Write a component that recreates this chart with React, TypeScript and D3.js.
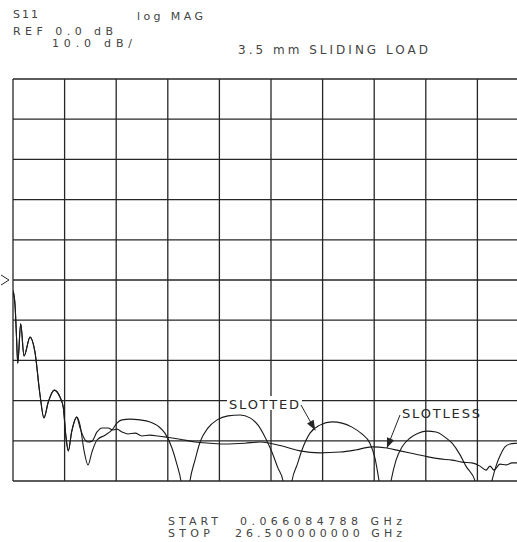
import React from 'react';
import * as d3 from 'd3';

// S11 log MAG trace, [GHz, dB]
// both loads trace the same path at low frequency
const sharedTrace: [number, number][] = [
  [0.07, -2.7], [0.17, -6.2], [0.24, -13.5], [0.31, -20.7], [0.46, -10.9],
  [0.63, -18.9], [0.94, -14.2], [1.19, -17.9], [1.45, -28.6], [1.65, -34.3],
  [1.87, -30.4], [2.18, -27.4], [2.47, -29.1], [2.64, -31.6], [2.77, -38.6],
  [2.9, -42.5], [3.07, -37.8], [3.33, -34.1],
];

const slottedTrace: [number, number][] = [
  [3.5, -36.1], [3.7, -42.3], [3.91, -46.0], [4.11, -42.8], [4.37, -39.8],
  [4.78, -38.6], [5.14, -37.3], [5.39, -35.6], [5.65, -34.8], [6.06, -34.6],
  [6.57, -34.8], [7.08, -35.3], [7.49, -36.3], [7.85, -38.1], [8.21, -41.8],
  [8.47, -46.0], [8.67, -50], [8.9, -60], [9.13, -50], [9.39, -44.8],
  [9.65, -40.3], [10.06, -36.8], [10.52, -34.8], [11.08, -33.8], [11.7, -33.6],
  [12.21, -34.3], [12.62, -36.1], [12.98, -39.1], [13.33, -42.8], [13.64, -46.8],
  [13.9, -50], [14.13, -60], [14.36, -50], [14.62, -46.0], [14.87, -42.3],
  [15.28, -38.1], [15.79, -36.1], [16.41, -35.3], [16.92, -35.6], [17.43, -36.6],
  [17.94, -38.3], [18.35, -40.6], [18.61, -44.3], [18.82, -50], [19.12, -60],
  [19.43, -50], [19.69, -44.8], [20.0, -41.5], [20.41, -39.3], [20.82, -38.1],
  [21.28, -37.6], [21.74, -37.8], [22.2, -39.1], [22.56, -40.6], [22.97, -43.5],
  [23.27, -46.3], [23.74, -50], [24.17, -60], [24.6, -50], [24.81, -46.3],
  [25.01, -43.8], [25.27, -41.5], [25.53, -40.8], [25.89, -40.6], [26.5, -40.3],
];

const slotlessTrace: [number, number][] = [
  [3.5, -36.8], [3.7, -39.3], [3.91, -40.3], [4.11, -40.1], [4.37, -37.8],
  [4.62, -36.8], [4.93, -36.8], [5.19, -37.3], [5.39, -37.1], [5.65, -37.8],
  [5.96, -38.3], [6.32, -38.1], [6.67, -38.8], [7.08, -38.6], [7.49, -38.8],
  [7.95, -39.1], [8.62, -39.6], [9.39, -40.3], [10.16, -40.6], [10.93, -40.8],
  [11.95, -40.6], [12.72, -40.3], [13.23, -40.6], [14.0, -41.5], [14.77, -42.5],
  [15.79, -43.0], [16.82, -42.8], [17.59, -42.3], [18.46, -41.5], [19.22, -41.8],
  [19.89, -42.5], [20.66, -43.3], [21.33, -44.0], [21.94, -44.5], [22.56, -44.8],
  [23.07, -45.3], [23.58, -45.5], [23.99, -46.3], [24.3, -47.3], [24.5, -46.3],
  [24.71, -47.3], [25.01, -45.8], [25.32, -46.0], [25.63, -45.5], [25.89, -45.5],
  [26.5, -45.3],
];

const startGHz = 0.066084788;
const stopGHz = 26.5;
const refDb = 0;
const dbPerDiv = 10;
const divisions = 10;

const headerLines = ['S11', 'log MAG', 'REF 0.0 dB', '10.0 dB/'];
const chartTitle = '3.5 mm SLIDING LOAD';
const footerLabels = ['START', 'STOP'];
const footerValues = ['0.066084788 GHz', '26.500000000 GHz'];
const seriesNames = ['SLOTTED', 'SLOTLESS'];

const W = 517;
const H = 542;
const plot = { left: 13, right: 529, top: 79, bottom: 481 };
const ink = '#262626';
const font = '"DejaVu Sans", Verdana, sans-serif';

const App = () => {
  const x = d3.scaleLinear().domain([startGHz, stopGHz]).range([plot.left, plot.right]);
  const y = d3
    .scaleLinear()
    .domain([refDb - (dbPerDiv * divisions) / 2, refDb + (dbPerDiv * divisions) / 2])
    .range([plot.bottom, plot.top]);

  const xDiv = (stopGHz - startGHz) / divisions;
  const xGrid = d3.range(divisions + 1).map(i => startGHz + i * xDiv);
  const yGrid = d3.range(divisions + 1).map(i => y.domain()[0] + i * dbPerDiv);

  const line = d3
    .line<[number, number]>()
    .x(d => x(d[0]))
    .y(d => y(d[1]))
    .curve(d3.curveMonotoneX);

  const slotted = line([...sharedTrace, ...slottedTrace]) || '';
  const slotless = line([...sharedTrace, ...slotlessTrace]) || '';

  // label leader lines point at a spot on each trace
  const slottedTip = [x(15.55), y(-37.4)];
  const slotlessTip = [x(19.22), y(-41.8)];

  const arrowHead = (fx: number, fy: number, tx: number, ty: number) => {
    const a = Math.atan2(ty - fy, tx - fx);
    const len = 10;
    const w = 3.8;
    const bx = tx - len * Math.cos(a);
    const by = ty - len * Math.sin(a);
    return `M${tx},${ty}L${bx + w * Math.sin(a)},${by - w * Math.cos(a)}L${bx - w * Math.sin(a)},${by + w * Math.cos(a)}Z`;
  };

  const refY = y(refDb);

  return (
    <div style={{ position: 'absolute', left: 0, top: 0 }}>
      <svg width={W} height={H} style={{ display: 'block', background: '#fff' }}>
        <defs>
          <clipPath id="plotClip">
            <rect x={plot.left} y={plot.top} width={plot.right - plot.left} height={plot.bottom - plot.top} />
          </clipPath>
        </defs>

        {/* header */}
        <g fontFamily={font} fill="#444" fontSize={11}>
          <text x={13} y={18} textLength={25} lengthAdjust="spacing">{headerLines[0]}</text>
          <text x={137} y={20} textLength={66} lengthAdjust="spacing">{headerLines[1]}</text>
          <text x={13} y={35} textLength={100} lengthAdjust="spacing">{headerLines[2]}</text>
          <text x={52} y={47} textLength={80} lengthAdjust="spacing">{headerLines[3]}</text>
          <text x={238} y={54} fontSize={12} textLength={190} lengthAdjust="spacing">{chartTitle}</text>
        </g>

        {/* graticule */}
        <g stroke={ink} strokeWidth={1.3}>
          {yGrid.map(v => (
            <line key={'h' + v} x1={plot.left} x2={plot.right} y1={y(v)} y2={y(v)} />
          ))}
          {xGrid.map(v => (
            <line key={'v' + v} x1={x(v)} x2={x(v)} y1={plot.top} y2={plot.bottom} />
          ))}
        </g>

        {/* reference position marker */}
        <polyline points={`1,${refY - 5} 9,${refY} 1,${refY + 5}`} fill="none" stroke={ink} strokeWidth={1} />

        <g clipPath="url(#plotClip)" fill="none" stroke="#1a1a1a" strokeWidth={1.1}>
          <path d={slotless} />
          <path d={slotted} />
        </g>

        {/* SLOTTED label */}
        <rect x={227} y={396} width={75} height={14} fill="#fff" />
        <text x={229} y={409} fontFamily={font} fontSize={13} fill={ink} textLength={70} lengthAdjust="spacing">
          {seriesNames[0]}
        </text>
        <line x1={301} y1={405} x2={slottedTip[0]} y2={slottedTip[1]} stroke={ink} strokeWidth={1} />
        <path d={arrowHead(301, 405, slottedTip[0], slottedTip[1])} fill={ink} />

        {/* SLOTLESS label */}
        <text x={402} y={418} fontFamily={font} fontSize={13} fill={ink} textLength={78} lengthAdjust="spacing">
          {seriesNames[1]}
        </text>
        <line x1={400} y1={415} x2={slotlessTip[0]} y2={slotlessTip[1]} stroke={ink} strokeWidth={1} />
        <path d={arrowHead(400, 415, slotlessTip[0], slotlessTip[1])} fill={ink} />

        {/* footer */}
        <g fontFamily={font} fill="#444" fontSize={11}>
          <text x={168} y={525} textLength={50} lengthAdjust="spacing">{footerLabels[0]}</text>
          <text x={240} y={525} textLength={162} lengthAdjust="spacing">{footerValues[0]}</text>
          <text x={168} y={537} textLength={42} lengthAdjust="spacing">{footerLabels[1]}</text>
          <text x={235} y={537} textLength={167} lengthAdjust="spacing">{footerValues[1]}</text>
        </g>
      </svg>
    </div>
  );
};

export default App;
